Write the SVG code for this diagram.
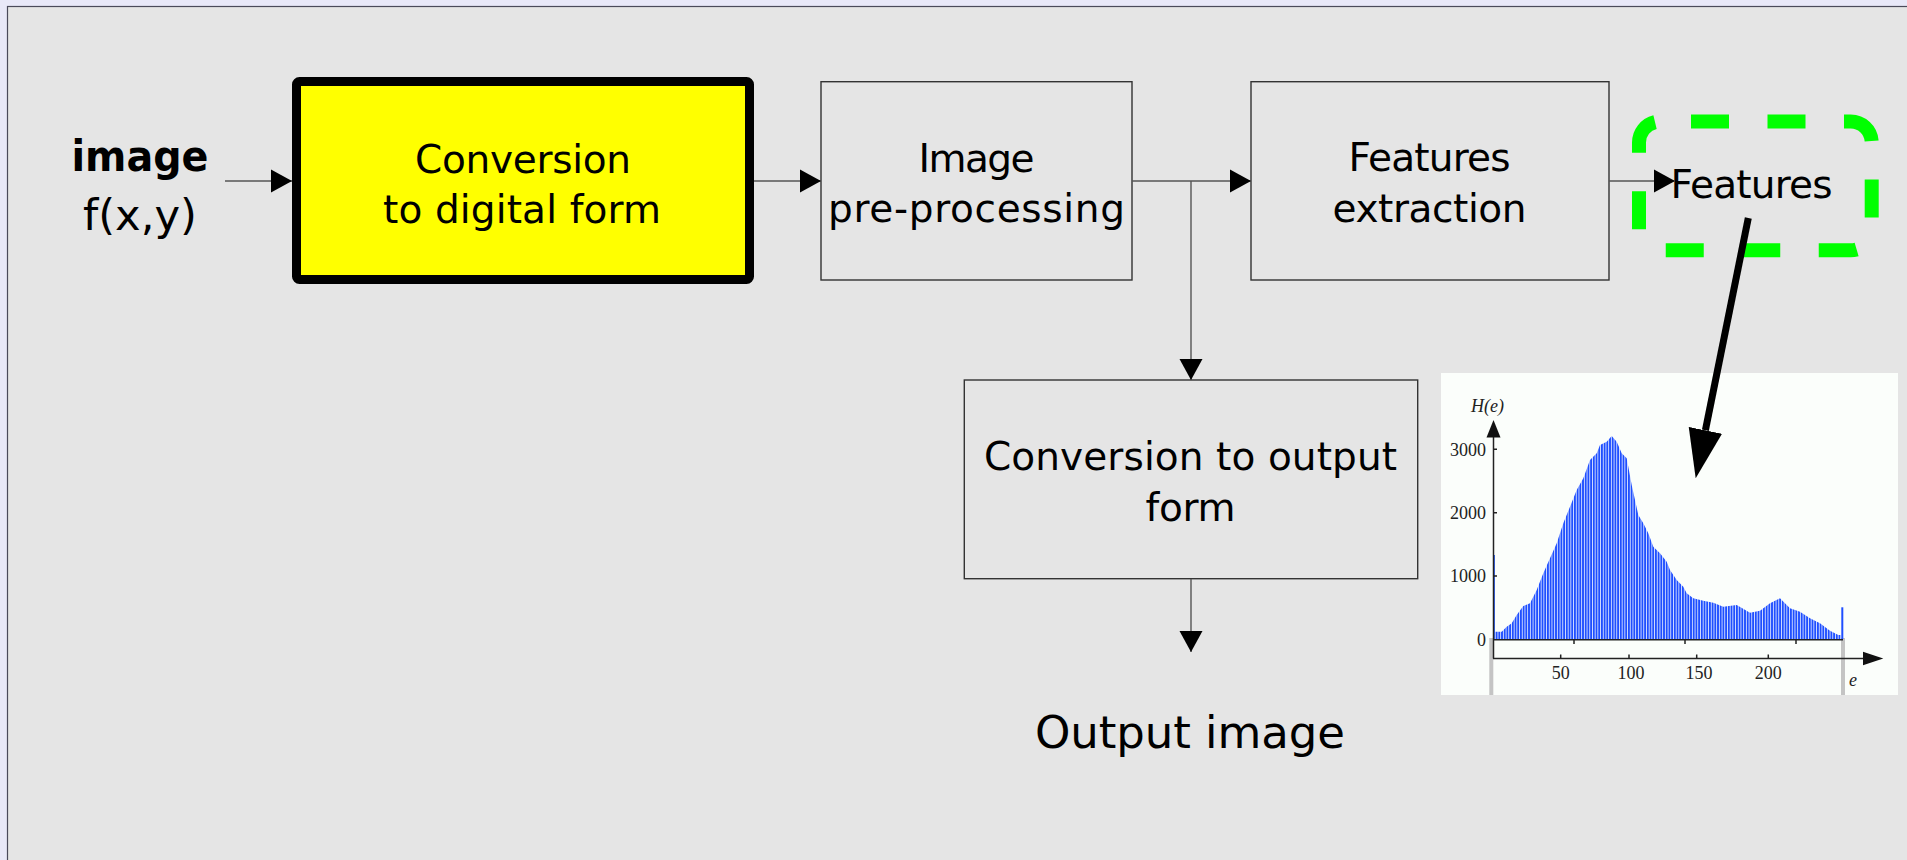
<svg xmlns="http://www.w3.org/2000/svg" width="1907" height="860" viewBox="0 0 1907 860">
<defs>
<style>
.box{fill:#e5e5e5;stroke:#333;stroke-width:1.4}
.lbl{font-family:"DejaVu Sans","Liberation Sans",sans-serif;font-size:39px;fill:#000;text-anchor:middle}
.conn{stroke:#555;stroke-width:1.4;fill:none}
.ax{font-family:"Liberation Serif",serif;font-size:18px;fill:#222}
.axl{stroke:#222;stroke-width:1.5;fill:none}
</style>
<marker id="ah" markerUnits="userSpaceOnUse" markerWidth="22" markerHeight="24" refX="21" refY="12" orient="auto">
<path d="M0,0.5 L21,12 L0,23.5 Z" fill="#000"/>
</marker>
<marker id="bigah" markerUnits="userSpaceOnUse" markerWidth="50" markerHeight="35" refX="0" refY="17" orient="auto">
<path d="M0,0 L49,17 L0,34 Z" fill="#000"/>
</marker>
<pattern id="bars" patternUnits="userSpaceOnUse" x="1493" y="0" width="2.7" height="10">
<rect width="2.7" height="10" fill="#d6e0ff"/>
<rect width="1.8" height="10" fill="#1f4fff"/>
</pattern>
</defs>

<g id="background">
<rect x="0" y="0" width="1907" height="860" fill="#e8e8f8"/>
<rect x="7.5" y="6.5" width="1910" height="870" fill="#e5e5e5" stroke="#4a4a5a" stroke-width="1.2"/>
</g>

<g id="input">
<text x="140" y="171" font-family="DejaVu Sans, Liberation Sans, sans-serif" font-weight="bold" font-size="42" text-anchor="middle" textLength="137" lengthAdjust="spacingAndGlyphs">image</text>
<text x="140" y="230" font-family="DejaVu Sans, Liberation Sans, sans-serif" font-size="43" text-anchor="middle" textLength="114" lengthAdjust="spacingAndGlyphs">f(x,y)</text>
</g>

<g id="conversion-digital">
<rect x="296.5" y="81.5" width="453" height="198" rx="3" fill="#ffff00" stroke="#000" stroke-width="9"/>
<text class="lbl" x="523" y="172.7" textLength="216">Conversion</text>
<text class="lbl" x="522" y="222.7" textLength="278">to digital form</text>
</g>

<g id="preprocessing">
<rect class="box" x="821" y="81.7" width="311" height="198.3"/>
<text class="lbl" x="976.5" y="171.7" textLength="116">Image</text>
<text class="lbl" x="976.5" y="221.7" textLength="297">pre-processing</text>
</g>

<g id="features-extraction">
<rect class="box" x="1251" y="81.7" width="358" height="198.3"/>
<text class="lbl" x="1429.5" y="171" textLength="162">Features</text>
<text class="lbl" x="1429.5" y="222" textLength="194">extraction</text>
</g>

<g id="output-conversion">
<rect class="box" x="964.3" y="380" width="453.4" height="198.7"/>
<text class="lbl" x="1190.5" y="470" textLength="413">Conversion to output</text>
<text class="lbl" x="1190.5" y="520.7" textLength="90">form</text>
</g>

<g id="output-image">
<text x="1190" y="747.7" font-family="DejaVu Sans, Liberation Sans, sans-serif" font-size="45" text-anchor="middle" textLength="310">Output image</text>
</g>

<g id="features">
<path d="M1660,121.5 H1850.7 A21,21 0 0 1 1871.7,142.5 V229.3 A21,21 0 0 1 1850.7,250.3 H1660 A21,21 0 0 1 1639,229.3 V142.5 A21,21 0 0 1 1660,121.5 Z" fill="none" stroke="#00ff00" stroke-width="14" stroke-dasharray="38 38.5" stroke-dashoffset="45.5"/>
<text class="lbl" x="1751.5" y="198.3" textLength="162">Features</text>
</g>

<g id="histogram">
<rect x="1441" y="373" width="457" height="322" fill="#fbfefb"/>
<rect x="1489.3" y="638" width="4" height="57" fill="#c4c4c4"/>
<rect x="1841" y="638" width="4" height="57" fill="#c4c4c4"/>
<polygon fill="url(#bars)" points="1494.3,639.3 1494.3,631.7 1501.7,631.7 1506.7,626.7 1511.7,623.3 1516.7,615 1523.3,606 1530,603.3 1536.7,590 1543.3,573.3 1550,558.3 1556.7,543.3 1563.3,523.3 1570,506.7 1576.7,490 1583.3,478.3 1590,460 1596.7,453.3 1600,445 1606.7,441.7 1611.7,436 1616.7,441.7 1621.7,453.3 1626.7,458.3 1631.7,485 1638.3,515 1643.3,523.3 1648.3,533.3 1653.3,546.7 1660,553.3 1666.7,561.7 1670,570 1676.7,580 1683.3,586.7 1686.7,593.3 1693.3,598.3 1703.3,600.7 1713.3,602.7 1723.3,606.7 1736.7,605 1750,612.7 1760,610.7 1770,603.3 1780,598.3 1790,608.3 1800,611.7 1810,618.3 1820,623.3 1830,630.7 1838.3,635 1840.7,635 1840.7,639.3"/>
<line x1="1494" y1="639" x2="1494" y2="555" stroke="#3a6bff" stroke-width="2"/>
<line x1="1842.3" y1="639" x2="1842.3" y2="607.3" stroke="#1f4fff" stroke-width="2"/>
<line class="axl" x1="1493.5" y1="437" x2="1493.5" y2="658.5"/>
<polygon points="1493.5,420 1500.5,437.5 1486.5,437.5" fill="#111"/>
<line class="axl" x1="1493" y1="639.8" x2="1843" y2="639.8" stroke="#333"/>
<line class="axl" x1="1493" y1="658.5" x2="1866" y2="658.5"/>
<polygon points="1883.3,658.5 1863,651.8 1863,665.2" fill="#111"/>
<path class="axl" d="M1560.7,654.5V658.5 M1629,654.5V658.5 M1696.7,654.5V658.5 M1768.3,654.5V658.5 M1574,640V644 M1685,640V644 M1796,640V644 M1493,449.3H1497 M1493,512.7H1497 M1493,576H1497"/>
<text class="ax" x="1486" y="455.5" text-anchor="end">3000</text>
<text class="ax" x="1486" y="519" text-anchor="end">2000</text>
<text class="ax" x="1486" y="582" text-anchor="end">1000</text>
<text class="ax" x="1486" y="645.5" text-anchor="end">0</text>
<text class="ax" x="1560.7" y="679.3" text-anchor="middle">50</text>
<text class="ax" x="1631" y="679.3" text-anchor="middle">100</text>
<text class="ax" x="1699" y="679.3" text-anchor="middle">150</text>
<text class="ax" x="1768.3" y="679.3" text-anchor="middle">200</text>
<text class="ax" x="1853" y="686" text-anchor="middle" font-style="italic">e</text>
<text class="ax" x="1487.5" y="411.5" text-anchor="middle" font-style="italic" font-size="21">H(e)</text>
</g>

<g id="connectors">
<line class="conn" x1="225" y1="181" x2="292" y2="181" marker-end="url(#ah)"/>
<line class="conn" x1="754" y1="181" x2="821" y2="181" marker-end="url(#ah)"/>
<line class="conn" x1="1132" y1="181" x2="1251" y2="181" marker-end="url(#ah)"/>
<line class="conn" x1="1191" y1="181" x2="1191" y2="380" marker-end="url(#ah)"/>
<line class="conn" x1="1191" y1="579" x2="1191" y2="652" marker-end="url(#ah)"/>
<line class="conn" x1="1609" y1="181" x2="1675" y2="181" marker-end="url(#ah)"/>
<line x1="1748.3" y1="218" x2="1705.4" y2="430.3" stroke="#000" stroke-width="7" marker-end="url(#bigah)"/>
</g>
</svg>
